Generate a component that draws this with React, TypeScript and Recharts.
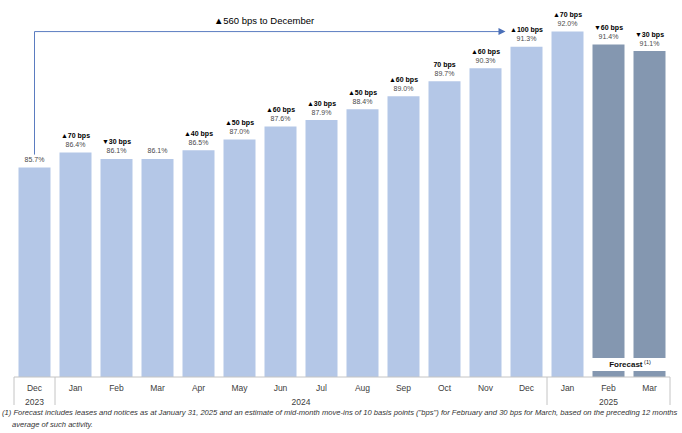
import React from "react";
import {
  BarChart, Bar, XAxis, YAxis, Cell, LabelList, ReferenceArea, ReferenceLine
} from "recharts";

const months = ["Dec", "Jan", "Feb", "Mar", "Apr", "May", "Jun", "Jul", "Aug", "Sep", "Oct", "Nov", "Dec", "Jan", "Feb", "Mar"];
const years = ["2023", "2024", "2024", "2024", "2024", "2024", "2024", "2024", "2024", "2024", "2024", "2024", "2024", "2025", "2025", "2025"];
const occupancy = [85.7, 86.4, 86.1, 86.1, 86.5, 87.0, 87.6, 87.9, 88.4, 89.0, 89.7, 90.3, 91.3, 92.0, 91.4, 91.1];
const changes = ["", "▲70 bps", "▼30 bps", "", "▲40 bps", "▲50 bps", "▲60 bps", "▲30 bps", "▲50 bps", "▲60 bps", "70 bps", "▲60 bps", "▲100 bps", "▲70 bps", "▼60 bps", "▼30 bps"];
const forecast = [false, false, false, false, false, false, false, false, false, false, false, false, false, false, true, true];

const data = months.map((m, i) => ({
  key: `${m} ${years[i]}`,
  month: m,
  year: years[i],
  occ: occupancy[i],
  change: changes[i],
  forecast: forecast[i],
}));

const FONT = "'Liberation Sans', Arial, sans-serif";
const LIGHT = "#b4c7e7";
const DARK = "#8497b0";
const BORDER = "#c4c4c4";

function MonthTick(props) {
  const { x, y, payload } = props;
  const i = payload.index ?? months.indexOf(payload.value);
  const half = payload.offset || 20.5;
  const d = data[i];
  const first = i === 0 || data[i - 1].year !== d.year;
  const last = i === data.length - 1;
  let yearLabel = null;
  let leftLine = null;
  if (first) {
    const n = data.filter((e) => e.year === d.year).length;
    const start = x - half;
    yearLabel = (
      <text x={start + n * half} y={y + 28} textAnchor="middle" fontSize={8.5} fill="#404040" fontFamily={FONT}>
        {d.year}
      </text>
    );
    leftLine = <line x1={start} x2={start} y1={y} y2={y + 28} stroke={BORDER} />;
  }
  return (
    <g>
      {leftLine}
      {last && <line x1={x + half} x2={x + half} y1={y} y2={y + 28} stroke={BORDER} />}
      <text x={x} y={y + 14} textAnchor="middle" fontSize={8.5} fill="#404040" fontFamily={FONT}>
        {d.month}
      </text>
      {yearLabel}
    </g>
  );
}

function ValueLabel(props) {
  const { x, y, width, value } = props;
  return (
    <text x={x + width / 2} y={y - 5.5} textAnchor="middle" fontSize={7} fill="#4a4a4a" fontFamily={FONT}>
      {`${Number(value).toFixed(1)}%`}
    </text>
  );
}

function ChangeLabel(props) {
  const { x, y, width, value } = props;
  if (!value) return null;
  return (
    <text x={x + width / 2} y={y - 14.5} textAnchor="middle" fontSize={7} fontWeight="bold" fill="#000" fontFamily={FONT}>
      {value}
    </text>
  );
}

function ArrowShape(props) {
  const { x1, y1, x2 } = props;
  const xEnd = x2 - 21;
  return (
    <g>
      <path d={`M${x1},${y1 + 123} V${y1} H${xEnd - 6}`} fill="none" stroke="#5b7cc0" strokeWidth={1} />
      <polygon points={`${xEnd},${y1} ${xEnd - 7},${y1 - 3.5} ${xEnd - 7},${y1 + 3.5}`} fill="#4a6fb8" />
      <text x={(x1 + xEnd) / 2 - 6} y={y1 - 8} textAnchor="middle" fontSize={9.5} fill="#000" fontFamily={FONT}>
        ▲560 bps to December
      </text>
    </g>
  );
}

function ForecastLabel(props) {
  const { x, y, width, height } = props.viewBox;
  return (
    <text x={x + width / 2 + 1} y={y + height / 2 + 3} textAnchor="middle" fontSize={8} fontWeight="bold" fill="#111" fontFamily={FONT}>
      Forecast
      <tspan fontSize={5.5} fontWeight="normal" dy={-3}> (1)</tspan>
    </text>
  );
}

export default function App() {
  return (
    <div style={{ position: "absolute", left: 0, top: 0, width: 682, height: 433, background: "#fff" }}>
      <BarChart
        width={682}
        height={433}
        data={data}
        margin={{ top: 10, right: 12, bottom: 26, left: 14 }}
        barCategoryGap={4.5}
      >
        <XAxis
          dataKey="key"
          interval={0}
          height={30}
          tickSize={0}
          tickMargin={0}
          axisLine={{ stroke: BORDER }}
          tickLine={false}
          tick={<MonthTick />}
        />
        <YAxis hide domain={[76, 93]} allowDataOverflow />
        <Bar dataKey="occ" isAnimationActive={false}>
          {data.map((d, i) => (
            <Cell key={i} fill={d.forecast ? DARK : LIGHT} />
          ))}
          <LabelList dataKey="occ" content={<ValueLabel />} />
          <LabelList dataKey="change" content={<ChangeLabel />} />
        </Bar>
        <ReferenceArea
          x1="Feb 2025"
          x2="Mar 2025"
          y1={76.28}
          y2={76.88}
          fill="#fff"
          fillOpacity={1}
          stroke="none"
          ifOverflow="visible"
          zIndex={1000}
          label={<ForecastLabel />}
        />
        <ReferenceLine
          segment={[{ x: "Dec 2023", y: 92 }, { x: "Dec 2024", y: 92 }]}
          ifOverflow="visible"
          shape={ArrowShape}
        />
      </BarChart>
      <div
        style={{
          position: "absolute",
          left: 2,
          top: 407,
          width: 682,
          fontFamily: FONT,
          fontStyle: "italic",
          fontSize: 7.6,
          lineHeight: "11.5px",
          color: "#333",
          whiteSpace: "nowrap",
        }}
      >
        <div>(1) Forecast includes leases and notices as at January 31, 2025 and an estimate of mid-month move-ins of 10 basis points ("bps") for February and 30 bps for March, based on the preceding 12 months</div>
        <div style={{ paddingLeft: 10 }}>average of such activity.</div>
      </div>
    </div>
  );
}
